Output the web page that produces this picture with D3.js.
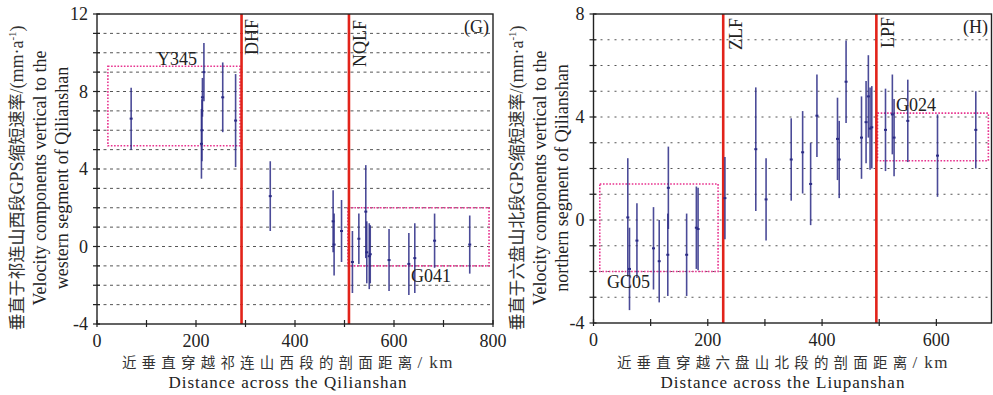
<!DOCTYPE html>
<html><head><meta charset="utf-8">
<script src="https://cdn.jsdelivr.net/npm/d3@7"></script>
<style>body{margin:0;background:#fff}svg{display:block}</style>
</head><body>
<svg id="c" width="993" height="395"></svg>
<script>
// ---------- DATA ----------
// Left panel (G): Qilianshan western segment
const leftDist = [69, 216, 213, 212, 211, 254, 280, 350, 477, 479, 494, 516, 529, 543, 545, 550, 552, 590, 630, 642, 682, 753];
const leftVel  = [6.6, 9.0, 7.7, 6.0, 5.3, 7.7, 6.5, 2.6, 1.3, 0.1, 0.8, -0.8, 0.4, 1.8, -0.3, -0.5, -0.4, -0.7, -0.9, -0.6, 0.3, 0.1];
const leftErr  = [1.6, 1.5, 1.0, 1.6, 1.8, 1.8, 2.4, 1.8, 1.6, 1.6, 1.6, 1.6, 1.3, 2.4, 1.6, 1.7, 1.5, 1.6, 1.6, 1.8, 1.4, 1.5];
const leftFaultNames = ["DHF", "NQLF"];
const leftFaultKm = [292, 509];
const leftBoxNames = ["Y345", "G041"];
const leftBoxX = [[22, 289], [507, 792]];
const leftBoxY = [[5.2, 9.3], [-1.0, 2.0]];
const leftXTicks = [0, 200, 400, 600, 800];
const leftYTicks = [-4, 0, 4, 8, 12];

// Right panel (H): Liupanshan northern segment
const rightDist = [60, 63, 76, 105, 115, 130, 131, 163, 180, 183, 230, 284, 302, 346, 366, 380, 391, 427, 430, 442, 469, 477, 481, 484, 487, 511, 523, 526, 550, 602, 669];
const rightVel  = [0.1, -1.9, -0.8, -1.1, -1.6, -1.35, 1.25, -1.35, -0.3, -0.35, 0.85, 2.75, 0.8, 2.35, 2.63, 1.4, 4.05, 3.15, 2.35, 5.37, 3.2, 3.8, 4.8, 3.55, 3.6, 3.5, 4.1, 3.2, 3.85, 2.5, 3.5];
const rightErr  = [2.3, 1.6, 1.45, 1.6, 1.6, 1.6, 1.6, 1.6, 1.6, 1.6, 1.6, 2.4, 1.6, 1.6, 1.6, 1.6, 1.6, 1.6, 1.5, 1.6, 1.6, 1.6, 1.6, 1.6, 1.6, 1.6, 1.55, 1.5, 1.6, 1.6, 1.5];
const rightFaultNames = ["ZLF", "LPF"];
const rightFaultKm = [227, 495];
const rightBoxNames = ["GC05", "G024"];
const rightBoxX = [[11, 218], [497, 691]];
const rightBoxY = [[-2.0, 1.4], [2.3, 4.15]];
const rightXTicks = [0, 200, 400, 600];
const rightYTicks = [-4, 0, 4, 8];

// ---------- DRAW ----------
const svg = d3.select("#c");
const SERIF = "'Liberation Serif','Times New Roman','Noto Sans CJK SC',serif";
const CJK = "'Noto Sans CJK SC','Liberation Serif',sans-serif";

function panel(o) {
  const g = svg.append("g");
  const x = d3.scaleLinear().domain(o.xDomain).range(o.xRange);
  const y = d3.scaleLinear().domain(o.yDomain).range([o.bottom, o.top]);
  const left = o.xRange[0], right = o.frameRight, top = o.top, bottom = o.bottom;

  // grid lines every 1 unit
  const gridVals = d3.range(o.yDomain[0] + 1, o.yDomain[1]);
  g.selectAll(".grid").data(gridVals).join("line")
    .attr("x1", left).attr("x2", right)
    .attr("y1", d => y(d)).attr("y2", d => y(d))
    .attr("stroke", "#555").attr("stroke-width", 1)
    .attr("stroke-dasharray", o.dash);

  // boxes
  o.boxX.forEach((bx, i) => {
    const by = o.boxY[i];
    g.append("rect")
      .attr("x", x(bx[0])).attr("y", y(by[1]))
      .attr("width", x(bx[1]) - x(bx[0])).attr("height", y(by[0]) - y(by[1]))
      .attr("fill", "none").attr("stroke", "#e8338f").attr("stroke-width", 1.6)
      .attr("stroke-dasharray", "1.6,1.6");
  });

  // fault lines
  o.faultKm.forEach((km, i) => {
    g.append("line").attr("x1", x(km)).attr("x2", x(km))
      .attr("y1", top).attr("y2", bottom)
      .attr("stroke", "#e2231a").attr("stroke-width", 2.6);
  });

  // error bars
  o.dist.forEach((d, i) => {
    const v = o.vel[i], e = o.err[i];
    g.append("line").attr("x1", x(d)).attr("x2", x(d))
      .attr("y1", y(v + e)).attr("y2", y(v - e))
      .attr("stroke", "#2c2c86").attr("stroke-opacity", 0.85).attr("stroke-width", 1.6);
    g.append("rect").attr("x", x(d) - 1.5).attr("y", y(v) - 1)
      .attr("width", 3).attr("height", 2).attr("fill", "#2c2c86");
  });

  // frame
  g.append("rect").attr("x", left).attr("y", top)
    .attr("width", right - left).attr("height", bottom - top)
    .attr("fill", "none").attr("stroke", "#222").attr("stroke-width", 1.4);

  // axis ticks
  const yMinor = d3.range(o.yDomain[0], o.yDomain[1] + 1);
  g.selectAll(".yt").data(yMinor).join("line")
    .attr("x1", left - 4).attr("x2", left + 3)
    .attr("y1", d => y(d)).attr("y2", d => y(d))
    .attr("stroke", "#222").attr("stroke-width", 1.2);
  const xMinor = d3.range(o.xDomain[0], o.xDomain[1] + 1, 100).filter(d => x(d) <= right + 0.5);
  g.selectAll(".xt").data(xMinor).join("line")
    .attr("x1", d => x(d)).attr("x2", d => x(d))
    .attr("y1", bottom - 4).attr("y2", bottom + 3)
    .attr("stroke", "#222").attr("stroke-width", 1.2);

  // tick labels
  g.selectAll(".yl").data(o.yTicks).join("text")
    .attr("x", left - 9).attr("y", d => y(d) + 6)
    .attr("text-anchor", "end").attr("font-family", SERIF).attr("font-size", 18)
    .attr("fill", "#222").text(d => d);
  g.selectAll(".xl").data(o.xTicks).join("text")
    .attr("x", d => x(d)).attr("y", bottom + 23)
    .attr("text-anchor", "middle").attr("font-family", SERIF).attr("font-size", 18)
    .attr("fill", "#222").text(d => d);

  // fault names (rotated)
  o.faultKm.forEach((km, i) => {
    g.append("text")
      .attr("transform", `translate(${x(km) + o.faultOff[i]},${o.faultY[i]}) rotate(-90)`)
      .attr("font-family", SERIF).attr("font-size", 18).attr("fill", "#222")
      .text(o.faultNames[i]);
  });

  // box names
  o.boxNames.forEach((n, i) => {
    g.append("text").attr("x", o.boxLabelPos[i][0]).attr("y", o.boxLabelPos[i][1])
      .attr("font-family", SERIF).attr("font-size", 18).attr("fill", "#222").text(n);
  });

  // panel letter
  g.append("text").attr("x", o.letterX).attr("y", 33).attr("text-anchor", "end")
    .attr("font-family", SERIF).attr("font-size", 18).attr("fill", "#222").text(o.letter);

  // x title
  const xc = o.xTitleCenter;
  const xt = g.append("text").attr("x", xc).attr("y", 368).attr("text-anchor", "middle")
    .attr("fill", "#333");
  xt.append("tspan").attr("font-family", CJK).attr("font-size", 14.5).attr("letter-spacing", 5.2)
    .text(o.xTitleCn);
  xt.append("tspan").attr("font-family", SERIF).attr("font-size", 17).attr("letter-spacing", 1.5)
    .text("/ km");
  g.append("text").attr("x", xc).attr("y", 388).attr("text-anchor", "middle")
    .attr("font-family", SERIF).attr("font-size", 17).attr("letter-spacing", 1)
    .attr("fill", "#222").text(o.xTitleEn);

  // y title (3 lines)
  const yc = 178;
  const t1 = g.append("text")
    .attr("transform", `translate(${o.yTitleX[0]},${yc}) rotate(-90)`)
    .attr("text-anchor", "middle").attr("font-family", SERIF).attr("font-size", 18).attr("fill", "#333");
  t1.append("tspan").attr("font-family", CJK).attr("font-size", 17).text(o.yTitleCn1);
  t1.append("tspan").text("GPS");
  t1.append("tspan").attr("font-family", CJK).attr("font-size", 17).text(o.yTitleCn2);
  t1.append("tspan").text("/(mm·a");
  t1.append("tspan").attr("font-size", 11).attr("dy", -7).text("-1");
  t1.append("tspan").attr("dy", 7).text(")");
  o.yTitleEn.forEach((s, i) => {
    g.append("text")
      .attr("transform", `translate(${o.yTitleX[i + 1]},${yc}) rotate(-90)`)
      .attr("text-anchor", "middle").attr("font-family", SERIF).attr("font-size", 18)
      .attr("fill", "#222").text(s);
  });
}

panel({
  xDomain: [0, 800], xRange: [97, 493], frameRight: 493,
  yDomain: [-4, 12], top: 14, bottom: 324,
  dash: "3,3.5",
  dist: leftDist, vel: leftVel, err: leftErr,
  faultKm: leftFaultKm, faultNames: leftFaultNames, faultOff: [16, 17], faultY: [55, 67],
  boxX: leftBoxX, boxY: leftBoxY, boxNames: leftBoxNames,
  boxLabelPos: [[157, 65], [411, 282]],
  xTicks: leftXTicks, yTicks: leftYTicks,
  letter: "(G)", letterX: 489,
  xTitleCenter: 288, xTitleCn: "近垂直穿越祁连山西段的剖面距离",
  xTitleEn: "Distance across the Qilianshan",
  yTitleX: [23, 46, 68],
  yTitleCn1: "垂直于祁连山西段", yTitleCn2: "缩短速率",
  yTitleEn: ["Velocity components vertical to the", "western segment of Qilianshan"]
});

panel({
  xDomain: [0, 700], xRange: [593.5, 993.5], frameRight: 991.5,
  yDomain: [-4, 8], top: 14, bottom: 323,
  dash: "2,5",
  dist: rightDist, vel: rightVel, err: rightErr,
  faultKm: rightFaultKm, faultNames: rightFaultNames, faultOff: [19, 18], faultY: [50, 48],
  boxX: rightBoxX, boxY: rightBoxY, boxNames: rightBoxNames,
  boxLabelPos: [[607, 288], [896, 111]],
  xTicks: rightXTicks, yTicks: rightYTicks,
  letter: "(H)", letterX: 988,
  xTitleCenter: 783, xTitleCn: "近垂直穿越六盘山北段的剖面距离",
  xTitleEn: "Distance across the Liupanshan",
  yTitleX: [523, 546, 568],
  yTitleCn1: "垂直于六盘山北段", yTitleCn2: "缩短速率",
  yTitleEn: ["Velocity components vertical to  the", "northern segment of Qilianshan"]
});
</script>
</body></html>
